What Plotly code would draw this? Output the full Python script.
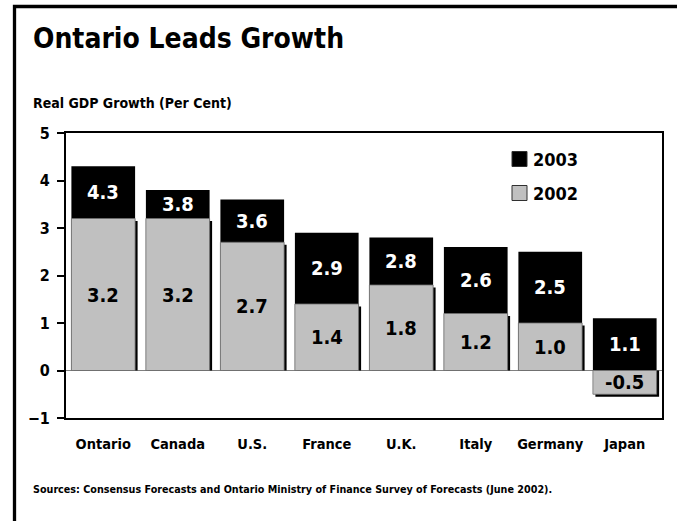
import plotly.graph_objects as go

# Real GDP growth by economy (per cent)
categories = ["Ontario", "Canada", "U.S.", "France", "U.K.", "Italy", "Germany", "Japan"]
growth_2002 = [3.2, 3.2, 2.7, 1.4, 1.8, 1.2, 1.0, -0.5]
growth_2003 = [4.3, 3.8, 3.6, 2.9, 2.8, 2.6, 2.5, 1.1]
y_ticks = [-1, 0, 1, 2, 3, 4, 5]

W, H = 677, 521
L, R, T, B = 66, 15, 133, 103
plot_w, plot_h = W - L - R, H - T - B
y_min, y_max = -1, 5

BLACK = "#000000"
GREY = "#c0c0c0"
FONT = "Liberation Sans Narrow, Arial Narrow, DejaVu Sans Condensed, sans-serif"

bar_width = 0.855
n = len(categories)
px_per_cat = plot_w / n
px_per_unit = plot_h / (y_max - y_min)
shadow_dx = 2.5 / px_per_cat      # drop shadow, in category units
shadow_dy = 2.5 / px_per_unit     # drop shadow, in data units


def px_x(p):
    return (p - L) / plot_w


def px_y(p):
    return (H - B - p) / plot_h


fig = go.Figure()

# 2003 bars (behind)
fig.add_trace(go.Bar(
    x=categories, y=growth_2003, width=bar_width,
    marker=dict(color=BLACK, line=dict(width=0)),
    showlegend=False, hoverinfo="skip",
))

# drop shadow of the 2002 bars
fig.add_trace(go.Bar(
    x=categories,
    y=[v - shadow_dy for v in growth_2002],
    width=bar_width, offset=-bar_width / 2 + shadow_dx,
    marker=dict(color=BLACK, line=dict(width=0)),
    showlegend=False, hoverinfo="skip",
))

# 2002 bars (front)
fig.add_trace(go.Bar(
    x=categories, y=growth_2002, width=bar_width,
    marker=dict(color=GREY, line=dict(width=0.8, color="#707070")),
    showlegend=False, hoverinfo="skip",
))

annotations = []
# value labels, centred in the visible part of each bar
for c, v02, v03 in zip(categories, growth_2002, growth_2003):
    base03 = max(v02, 0)
    annotations.append(dict(
        x=c, y=(base03 + v03) / 2, xref="x", yref="y",
        text=f"{v03:.1f}", showarrow=False,
        font=dict(family=FONT, size=20, color="white", weight="bold"),
    ))
    annotations.append(dict(
        x=c, y=v02 / 2, xref="x", yref="y",
        text=f"{v02:.1f}", showarrow=False,
        font=dict(family=FONT, size=20, color=BLACK, weight="bold"),
    ))

# title, axis caption and source note
annotations += [
    dict(x=px_x(31), y=px_y(38), xref="paper", yref="paper", xanchor="left", yanchor="middle",
         text="Ontario Leads Growth", showarrow=False,
         font=dict(family=FONT, size=28, color=BLACK, weight="bold")),
    dict(x=px_x(31), y=px_y(103), xref="paper", yref="paper", xanchor="left", yanchor="middle",
         text="Real GDP Growth (Per Cent)", showarrow=False,
         font=dict(family=FONT, size=14, color=BLACK, weight="bold")),
    dict(x=px_x(31), y=px_y(490), xref="paper", yref="paper", xanchor="left", yanchor="middle",
         text="Sources: Consensus Forecasts and Ontario Ministry of Finance Survey of Forecasts (June 2002).",
         showarrow=False,
         font=dict(family=FONT, size=10.7, color=BLACK, weight="bold")),
]

# legend
legend_items = [("2003", BLACK, 159), ("2002", GREY, 193)]
shapes = []
for label, color, cy in legend_items:
    shapes.append(dict(
        type="rect", xref="paper", yref="paper",
        x0=px_x(512), x1=px_x(527), y0=px_y(cy - 7.5), y1=px_y(cy + 7.5),
        fillcolor=color, line=dict(color="#303030", width=1),
    ))
    annotations.append(dict(
        x=px_x(531), y=px_y(cy), xref="paper", yref="paper",
        xanchor="left", yanchor="middle", text=label, showarrow=False,
        font=dict(family=FONT, size=18, color=BLACK, weight="bold"),
    ))

# outer frame
shapes.append(dict(
    type="rect", xref="paper", yref="paper",
    x0=px_x(14.5), x1=px_x(W + 20), y0=px_y(H + 20), y1=px_y(6.5),
    line=dict(color=BLACK, width=3.3), fillcolor="rgba(0,0,0,0)",
))

fig.update_layout(
    width=W, height=H,
    margin=dict(l=L, r=R, t=T, b=B, pad=0),
    paper_bgcolor="white", plot_bgcolor="white",
    barmode="overlay", bargap=1 - bar_width,
    showlegend=False,
    annotations=annotations, shapes=shapes,
    font=dict(family=FONT, color=BLACK),
)

fig.update_xaxes(
    type="category", range=[-0.5, n - 0.5],
    showline=True, linecolor=BLACK, linewidth=2, mirror=True,
    showgrid=False, ticks="", ticklabelstandoff=12,
    tickfont=dict(family=FONT, size=14.5, color=BLACK, weight="bold"),
)
fig.update_yaxes(
    range=[y_min, y_max], tickvals=y_ticks,
    showline=True, linecolor=BLACK, linewidth=2, mirror=True,
    showgrid=False, zeroline=True, zerolinecolor="#808080", zerolinewidth=1,
    ticks="outside", ticklen=7, tickwidth=2, tickcolor=BLACK,
    ticklabelstandoff=4,
    tickfont=dict(family=FONT, size=16, color=BLACK, weight="bold"),
)

fig.write_html("out.html")
